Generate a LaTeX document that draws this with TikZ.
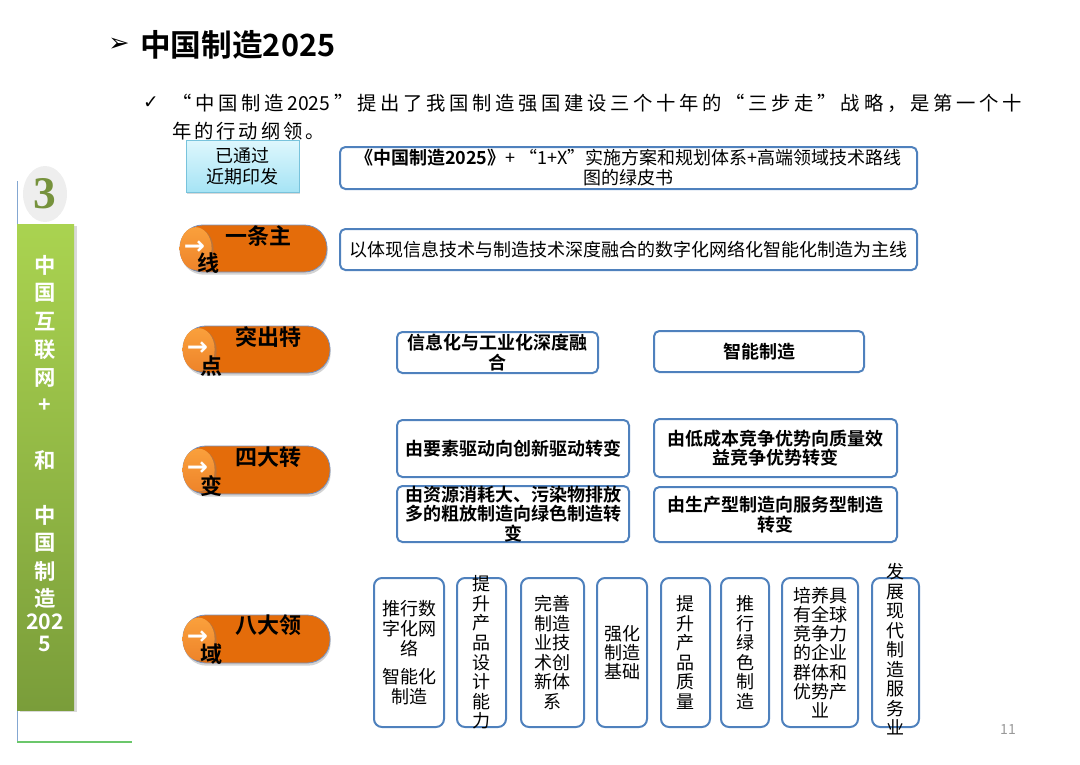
\documentclass[tikz,border=0pt]{standalone}
\usepackage{fontspec}
\setmainfont{Noto Sans CJK SC}[BoldFont=* Bold]
\newfontfamily\symfont{DejaVu Sans}
\newfontfamily\numfont{Liberation Serif}
\usetikzlibrary{fit, calc, shadows, shapes.geometric}

\definecolor{boxblue}{RGB}{79,129,189}
\definecolor{pillorange}{RGB}{228,108,10}
\definecolor{pilledge}{RGB}{120,145,190}
\definecolor{knobtop}{RGB}{250,160,60}
\definecolor{knobbottom}{RGB}{238,132,42}
\definecolor{leaftop}{RGB}{170,211,80}
\definecolor{leafbottom}{RGB}{122,157,58}
\definecolor{icetop}{RGB}{222,247,253}
\definecolor{icebottom}{RGB}{166,228,245}
\definecolor{iceedge}{RGB}{120,195,220}
\definecolor{olive}{RGB}{118,146,60}

\tikzset{
  bluebox/.style={draw=boxblue, line width=1.5pt, rounded corners=4pt, inner sep=0pt},
  fieldbox/.style={bluebox, rounded corners=6pt},
  boxtext/.style={align=center, inner sep=0pt, font=\fontsize{13.5}{15}\selectfont},
  boldtext/.style={align=center, inner sep=0pt, font=\fontsize{13.5}{14.5}\selectfont\bfseries},
  pill/.style={draw=pilledge, line width=0.6pt, fill=pillorange, rounded corners=17pt, inner sep=0pt,
    drop shadow={shadow xshift=0.5pt, shadow yshift=-2pt, opacity=0.35}},
  knob/.style={ellipse, minimum width=24pt, minimum height=32pt, inner sep=0pt, top color=knobtop, bottom color=knobbottom,
    drop shadow={shadow xshift=1.5pt, shadow yshift=-1pt, opacity=0.4}},
  arrowsym/.style={inner sep=0pt, text=white, font=\symfont\bfseries\fontsize{19}{19}\selectfont},
  pilltext/.style={inner sep=0pt, font=\fontsize{16.5}{16.5}\selectfont\bfseries},
  sidetext/.style={inner sep=0pt, text=white, font=\fontsize{16}{16}\selectfont\bfseries},
}

\begin{document}
\begin{tikzpicture}[x=0.75pt, y=-0.75pt]
\useasboundingbox (0,0) rectangle (1080,764);

% heading
\node[inner sep=0pt, font=\symfont\bfseries\fontsize{19}{19}\selectfont] (titlemark) at (119,45) {➢};
\node[anchor=west, inner sep=0pt, font=\fontsize{23}{23}\selectfont\bfseries] (title) at (140,45) {中国制造2025};
\node[inner sep=0pt, font=\symfont\fontsize{14}{14}\selectfont] (tick) at (151,103) {✓};
\node[anchor=west, inner sep=0pt, font=\fontsize{14.5}{14.5}\selectfont] (lead1) at (172,103)
  {\makebox[637pt][s]{“ 中 国 制 造 2025 ” 提 出 了 我 国 制 造 强 国 建 设 三 个 十 年 的 “ 三 步 走 ” 战 略 ， 是 第 一 个 十}};
\node[anchor=west, inner sep=0pt, font=\fontsize{14.5}{14.5}\selectfont] (lead2) at (172,131)
  {\makebox[114pt][s]{年 的 行 动 纲 领 。}};

% side bar
\draw[draw=boxblue!70, line width=0.6pt] (17,181) -- (17,742);
\draw[draw=green!45!gray!80, line width=0.8pt] (17,742) -- (132,742);
\node[ellipse, fill=gray!13, minimum width=33pt, minimum height=42pt, inner sep=0pt, text=olive,
  font=\numfont\bfseries\fontsize{34}{34}\selectfont] (badge) at (45,194) {3};
\node[top color=leaftop, bottom color=leafbottom, inner sep=0pt, fit={(17,224) (74,710)},
  drop shadow={shadow xshift=2pt, shadow yshift=-1.5pt, opacity=0.3}] (sidebar) {};
\foreach \ch/\yy [count=\i] in {中/265, 国/293, 互/322, 联/350, 网/378, +/406, 和/460, 中/515, 国/543, 制/571, 造/598, 202/622, 5/644}
  \node[sidetext] (side\i) at (45,\yy) {\ch};

% green paper
\node[draw=iceedge, line width=0.6pt, top color=icetop, bottom color=icebottom, inner sep=0pt, fit={(186,140) (299,192)},
  drop shadow={shadow xshift=1pt, shadow yshift=-1.5pt, opacity=0.3}] (passed) {};
\node[align=center, inner sep=0pt, font=\fontsize{13.5}{15.75}\selectfont] (passedtext) at (passed) {已通过\\近期印发};
\node[bluebox, fit={(340,147) (917,189)}] (plan) {};
\node[boxtext] (plantext) at (plan) {\textbf{《中国制造2025》}+ “1+X”实施方案和规划体系+高端领域技术路线\\图的绿皮书};

% one main line
\node[pill, fit={(180,225) (327,272)}] (mainline) {};
\node[knob] (mainknob) at ($(mainline.west)+(16,0)$) {};
\node[arrowsym] (mainarrow) at ($(mainknob)+(-1,-1)$) {→};
\node[pilltext] (mainlinea) at (258,236) {一条主};
\node[pilltext] (mainlineb) at (208,263) {线};
\node[bluebox, fit={(340,229) (917,270)}] (thread) {};
\node[boxtext] (threadtext) at (thread) {以体现信息技术与制造技术深度融合的数字化网络化智能化制造为主线};

% highlights
\node[pill, fit={(183,326) (330,373)}] (focus) {};
\node[knob] (focusknob) at ($(focus.west)+(16,0)$) {};
\node[arrowsym] (focusarrow) at ($(focusknob)+(-1,-1)$) {→};
\node[pilltext] (focusa) at (268,337) {突出特};
\node[pilltext] (focusb) at (211,366) {点};
\node[bluebox, fit={(397,332) (598,373)}] (merge) {};
\node[boldtext, font=\fontsize{13.5}{15}\selectfont\bfseries] (mergetext) at (merge) {信息化与工业化深度融\\合};
\node[bluebox, fit={(654,331) (864,372)}] (smart) {};
\node[boldtext] (smarttext) at (smart) {智能制造};

% four shifts
\node[pill, fit={(183,446) (330,494)}] (shift) {};
\node[knob] (shiftknob) at ($(shift.west)+(16,0)$) {};
\node[arrowsym] (shiftarrow) at ($(shiftknob)+(-1,-1)$) {→};
\node[pilltext] (shifta) at (268,457) {四大转};
\node[pilltext] (shiftb) at (211,486) {变};
\node[bluebox, fit={(397,420) (629,477)}] (shift1) {};
\node[boldtext] (shift1text) at (shift1) {由要素驱动向创新驱动转变};
\node[bluebox, fit={(654,419) (897,477)}] (shift2) {};
\node[boldtext] (shift2text) at (shift2) {由低成本竞争优势向质量效\\益竞争优势转变};
\node[bluebox, fit={(397,486) (629,542)}] (shift3) {};
\node[boldtext] (shift3text) at (shift3) {由资源消耗大、污染物排放\\多的粗放制造向绿色制造转\\变};
\node[bluebox, fit={(654,487) (897,542)}] (shift4) {};
\node[boldtext] (shift4text) at (shift4) {由生产型制造向服务型制造\\转变};

% eight fields
\node[pill, fit={(183,615) (330,663)}] (field) {};
\node[knob] (fieldknob) at ($(field.west)+(16,0)$) {};
\node[arrowsym] (fieldarrow) at ($(fieldknob)+(-1,-1)$) {→};
\node[pilltext] (fielda) at (268,625) {八大领};
\node[pilltext] (fieldb) at (211,654) {域};
\node[fieldbox, fit={(374,578) (444,727)}] (field1) {};
\node[boxtext] (field1text) at (field1) {推行数\\字化网\\络\\[6pt]智能化\\制造};
\node[fieldbox, fit={(457,578) (506,727)}] (field2) {};
\node[boxtext, font=\fontsize{13.5}{14.7}\selectfont] (field2text) at (field2) {提\\升\\产\\品\\设\\计\\能\\力};
\node[fieldbox, fit={(521,578) (584,727)}] (field3) {};
\node[boxtext, font=\fontsize{13.5}{14.7}\selectfont] (field3text) at (field3) {完善\\制造\\业技\\术创\\新体\\系};
\node[fieldbox, fit={(597,578) (647,727)}] (field4) {};
\node[boxtext, font=\fontsize{13.5}{14.3}\selectfont] (field4text) at (field4) {强化\\制造\\基础};
\node[fieldbox, fit={(661,578) (710,727)}] (field5) {};
\node[boxtext, font=\fontsize{13.5}{14.7}\selectfont] (field5text) at (field5) {提\\升\\产\\品\\质\\量};
\node[fieldbox, fit={(721,578) (769,727)}] (field6) {};
\node[boxtext, font=\fontsize{13.5}{14.7}\selectfont] (field6text) at (field6) {推\\行\\绿\\色\\制\\造};
\node[fieldbox, fit={(782,578) (858,727)}] (field7) {};
\node[boxtext, font=\fontsize{13.5}{14.4}\selectfont] (field7text) at (field7) {培养具\\有全球\\竞争力\\的企业\\群体和\\优势产\\业};
\node[fieldbox, fit={(872,578) (919,727)}] (field8) {};
\node[boxtext, font=\fontsize{13.5}{14.6}\selectfont] (field8text) at ($(field8)+(0,-3)$) {发\\展\\现\\代\\制\\造\\服\\务\\业};

\node[inner sep=0pt, text=gray!80, font=\fontsize{10.5}{10.5}\selectfont] (pageno) at (1008,729) {11};
\end{tikzpicture}
\end{document}
